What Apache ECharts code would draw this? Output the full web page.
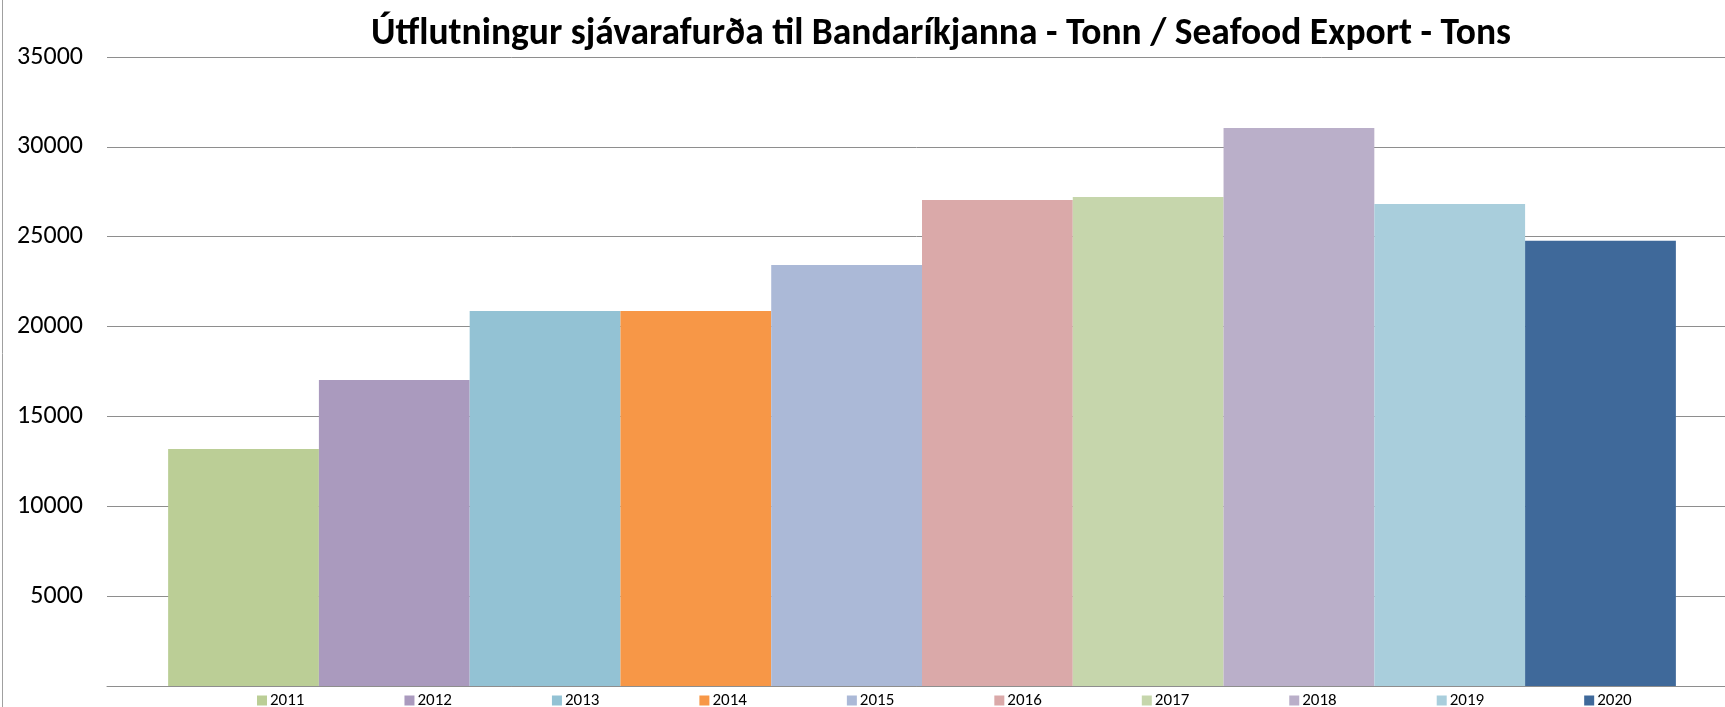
<!DOCTYPE html>
<html>
<head>
<meta charset="utf-8">
<script src="https://cdn.jsdelivr.net/npm/echarts@6/dist/echarts.min.js"></script>
<style>
  html, body { margin: 0; padding: 0; background: #fff; }
  #chart { width: 1725px; height: 707px; }
</style>
</head>
<body>
<div id="chart"></div>
<script>
// Útflutningur til Bandaríkjanna, tonn á ári
const years = ['2011', '2012', '2013', '2014', '2015', '2016', '2017', '2018', '2019', '2020'];
const tons = [13190, 17030, 20870, 20860, 23430, 27040, 27210, 31050, 26820, 24770];
const colors = ['#bbce96', '#aa9abe', '#93c2d4', '#f79747', '#abb9d7', '#daa9a9', '#c6d6ac', '#baafc9', '#a9cedc', '#3f699a'];
const yTicks = [0, 5000, 10000, 15000, 20000, 25000, 30000, 35000];

const FONT = 'Carlito, Lato, sans-serif';

function initExportChart() {
    const chartDom = document.getElementById('chart');
    const myChart = echarts.init(chartDom);

    const series = years.map(function (y, i) {
        return {
            name: y,
            type: 'bar',
            data: [tons[i]],
            barGap: '0%',
            barCategoryGap: '7.5%',
            itemStyle: { color: colors[i] }
        };
    });

    const option = {
        animation: false,
        color: colors,
        title: {
            text: 'Útflutningur sjávarafurða til Bandaríkjanna - Tonn / Seafood Export - Tons',
            left: 366,
            top: 11,
            textStyle: {
                fontFamily: FONT,
                fontSize: 37.5,
                fontWeight: 'bold',
                color: '#000'
            }
        },
        legend: {
            data: years,
            left: 252,
            top: 687,
            icon: 'rect',
            itemWidth: 10,
            itemHeight: 10,
            itemGap: 100,
            itemStyle: { borderWidth: 0 },
            textStyle: {
                fontFamily: FONT,
                fontSize: 17,
                color: '#000',
                padding: [0, 0, 0, -2]
            }
        },
        grid: {
            left: 107,
            width: 1630,
            top: 57,
            bottom: 21,
            outerBoundsMode: 'none'
        },
        xAxis: {
            type: 'category',
            data: [''],
            axisLine: { lineStyle: { color: '#8e8e8e', width: 1 } },
            axisTick: { show: false },
            axisLabel: { show: false }
        },
        yAxis: {
            type: 'value',
            min: yTicks[0],
            max: yTicks[yTicks.length - 1],
            interval: yTicks[1] - yTicks[0],
            axisLine: { show: false },
            axisTick: { show: false },
            axisLabel: {
                showMinLabel: false,
                margin: 24,
                formatter: function (v) { return String(v); },
                fontFamily: FONT,
                fontSize: 26,
                color: '#000'
            },
            splitLine: { lineStyle: { color: '#8e8e8e', width: 1 } }
        },
        graphic: [
            {
                type: 'line',
                shape: { x1: 2.5, y1: 0, x2: 2.5, y2: 707 },
                style: { stroke: '#a0a0a0', lineWidth: 1 }
            }
        ],
        series: series
    };

    myChart.setOption(option);
    return myChart;
}

initExportChart();
</script>
</body>
</html>
